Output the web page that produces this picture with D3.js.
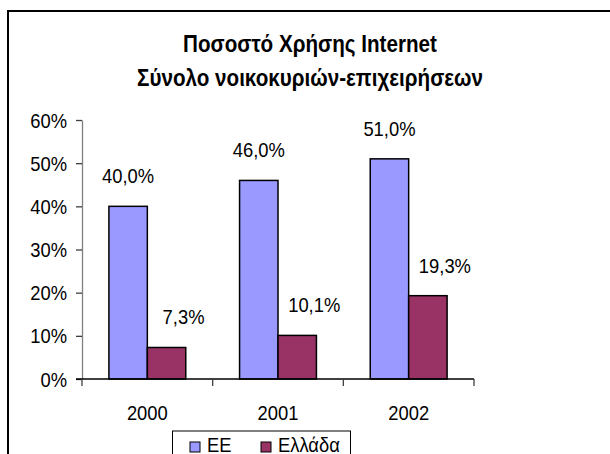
<!DOCTYPE html>
<html>
<head>
<meta charset="utf-8">
<script src="https://cdn.jsdelivr.net/npm/d3@7"></script>
<style>
  html, body { margin: 0; padding: 0; background: #fff; }
  svg { display: block; }
  text { font-family: "Liberation Sans", Arial, sans-serif; fill: #000; }
</style>
</head>
<body>
<svg id="chart" width="610" height="454"></svg>
<script>
const titleLines = ["Ποσοστό Χρήσης Internet", "Σύνολο νοικοκυριών-επιχειρήσεων"];
const categories = ["2000", "2001", "2002"];
const seriesNames = ["ΕΕ", "Ελλάδα"];
const valuesEE = [0.40, 0.46, 0.51];
const valuesGR = [0.073, 0.101, 0.193];
const yTicks = [0, 0.1, 0.2, 0.3, 0.4, 0.5, 0.6];
const colors = ["#9999FF", "#993366"];

const seriesValues = [valuesEE, valuesGR];
const data = categories.map((c, i) => ({
  cat: c,
  vals: seriesNames.map((s, j) => ({ series: s, idx: j, value: seriesValues[j][i] }))
}));

const svg = d3.select("#chart");
const FS = "20px";
const K = 0.92;   // horizontal condensing to mimic a narrow face

function narrowAt(sel, fx, fy, k) {
  sel.attr("transform", (d, i) => `translate(${fx(d, i)},${fy(d, i)}) scale(${k},1)`)
     .attr("x", 0).attr("y", 0);
}

svg.append("rect")
  .attr("x", 8).attr("y", 11)
  .attr("width", 620).attr("height", 470)
  .attr("fill", "#fff").attr("stroke", "#000").attr("stroke-width", 2);

svg.append("g").selectAll("text").data(titleLines).join("text")
  .attr("text-anchor", "middle")
  .style("font-weight", "bold")
  .style("font-size", "24px")
  .text(d => d)
  .call(narrowAt, () => 310, (d, i) => 52 + i * 34, 0.86);

const x0 = d3.scaleBand().domain(categories).range([82, 474]).paddingInner(0).paddingOuter(0);
const x1 = d3.scaleBand().domain(seriesNames).range([0, x0.bandwidth()]).paddingInner(0).paddingOuter(0.7);
const y = d3.scaleLinear().domain([0, 0.6]).range([379, 120]);

const fmtTick = d3.format(".0%");
const fmtLabel = v => d3.format(".1%")(v).replace(".", ",");

const yAxis = svg.append("g")
  .attr("transform", "translate(82,0)")
  .call(d3.axisLeft(y).tickValues(yTicks).tickFormat(fmtTick).tickSize(6).tickPadding(9).tickSizeOuter(0));
yAxis.select(".domain").attr("stroke", "#808080").attr("stroke-width", 1.3);
yAxis.selectAll(".tick line").attr("stroke", "#404040").attr("stroke-width", 1.3);
yAxis.selectAll(".tick text")
  .style("font-size", FS).attr("fill", "#000")
  .attr("dy", null)
  .call(narrowAt, () => -15, () => 7, K);

const groups = svg.append("g").selectAll("g").data(data).join("g")
  .attr("transform", d => `translate(${x0(d.cat)},0)`);
groups.selectAll("rect").data(d => d.vals).join("rect")
  .attr("x", d => x1(d.series))
  .attr("y", d => y(d.value))
  .attr("width", x1.bandwidth())
  .attr("height", d => y(0) - y(d.value))
  .attr("fill", d => colors[d.idx])
  .attr("stroke", "#000").attr("stroke-width", 1.5);

groups.selectAll("text.lbl").data(d => d.vals).join("text")
  .attr("class", "lbl")
  .attr("text-anchor", "middle")
  .style("font-size", FS)
  .text(d => fmtLabel(d.value))
  .call(narrowAt,
        d => x1(d.series) + x1.bandwidth() / 2 + (d.idx === 1 ? 17 : 0),
        d => y(d.value) - 23, K);

const xAxisBoundaries = categories.map(c => x0(c)).concat([x0(categories[categories.length - 1]) + x0.bandwidth()]);
svg.append("line")
  .attr("x1", 76).attr("x2", 474).attr("y1", y(0)).attr("y2", y(0))
  .attr("stroke", "#000").attr("stroke-width", 1.3);
svg.append("g").selectAll("line").data(xAxisBoundaries).join("line")
  .attr("x1", d => d).attr("x2", d => d)
  .attr("y1", y(0)).attr("y2", y(0) + 7)
  .attr("stroke", "#404040").attr("stroke-width", 1.3);
svg.append("g").selectAll("text").data(categories).join("text")
  .attr("text-anchor", "middle")
  .style("font-size", FS)
  .text(d => d)
  .call(narrowAt, d => x0(d) + x0.bandwidth() / 2, () => 420, K);

const legend = svg.append("g");
legend.append("rect")
  .attr("x", 172.5).attr("y", 431).attr("width", 178).attr("height", 34)
  .attr("fill", "#fff").attr("stroke", "#000").attr("stroke-width", 1);
const legX = [190, 261];
const li = legend.selectAll("g").data(seriesNames).join("g")
  .attr("transform", (d, i) => `translate(${legX[i]},0)`);
li.append("rect")
  .attr("x", 0).attr("y", 442).attr("width", 10).attr("height", 10)
  .attr("fill", (d, i) => colors[i]).attr("stroke", "#000").attr("stroke-width", 1);
li.append("text")
  .style("font-size", FS)
  .text(d => d)
  .call(narrowAt, () => 17, () => 452, K);
</script>
</body>
</html>
